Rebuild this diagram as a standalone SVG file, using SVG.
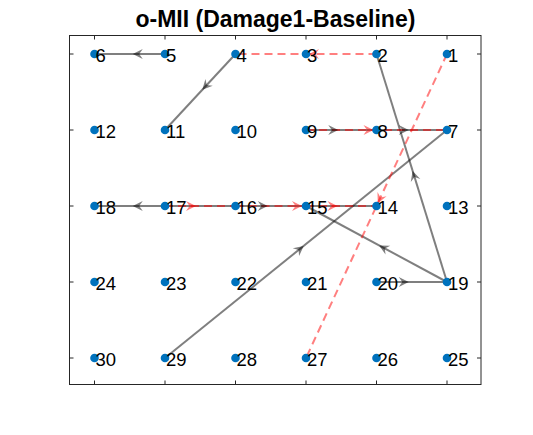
<svg xmlns="http://www.w3.org/2000/svg" xmlns:xlink="http://www.w3.org/1999/xlink" width="533" height="435" viewBox="0 0 533 435">
<style>
.box{fill:none;stroke:#262626;stroke-width:1}
.tick{stroke:#262626;stroke-width:1}
.g{stroke:#000;stroke-opacity:0.5;stroke-width:2;fill:none}
.r{stroke:#f00;stroke-opacity:0.5;stroke-width:2;fill:none;stroke-dasharray:8 5}
.ga{fill:#000;fill-opacity:0.5}
.ra{fill:#f00;fill-opacity:0.5}
.node circle{fill:#0072BD}
.node text{font-family:"Liberation Sans",Arial,sans-serif;font-size:18.5px;fill:#000}
.title{font-family:"Liberation Sans",Arial,sans-serif;font-size:23px;font-weight:bold;fill:#000;text-anchor:middle}
</style>
<defs>
<path id="ah" d="M0,0 L-10,-5 L-6.5,0 L-10,5 Z"/>
</defs>
<rect class="box" x="69.5" y="35.5" width="411.5" height="349"/>
<g id="ticks">
<path class="tick" d="M94.5,35.5v4M165,35.5v4M235.5,35.5v4M306,35.5v4M376.5,35.5v4M447,35.5v4M94.5,384.5v-4M165,384.5v-4M235.5,384.5v-4M306,384.5v-4M376.5,384.5v-4M447,384.5v-4M69.5,54h4M69.5,130h4M69.5,206h4M69.5,282h4M69.5,358h4M481,54h-4M481,130h-4M481,206h-4M481,282h-4M481,358h-4"/>
</g>
<g id="edges">
<line class="g" x1="165" y1="54" x2="94.5" y2="54"/>
<line class="g" x1="235.5" y1="54" x2="165" y2="130"/>
<line class="g" x1="447" y1="282" x2="376.5" y2="54"/>
<line class="g" x1="306" y1="130" x2="376.5" y2="130"/>
<line class="g" x1="376.5" y1="130" x2="447" y2="130"/>
<line class="g" x1="165" y1="358" x2="447" y2="130"/>
<line class="g" x1="165" y1="206" x2="94.5" y2="206"/>
<line class="g" x1="165" y1="206" x2="235.5" y2="206"/>
<line class="g" x1="235.5" y1="206" x2="306" y2="206"/>
<line class="g" x1="306" y1="206" x2="376.5" y2="206"/>
<line class="g" x1="447" y1="282" x2="306" y2="206"/>
<line class="g" x1="376.5" y1="282" x2="447" y2="282"/>
<line class="r" x1="376.5" y1="54" x2="235.5" y2="54"/>
<line class="r" x1="447" y1="54" x2="306" y2="358"/>
<line class="r" x1="306" y1="130" x2="447" y2="130"/>
<line class="r" x1="165" y1="206" x2="235.5" y2="206"/>
<line class="r" x1="235.5" y1="206" x2="306" y2="206"/>
<line class="r" x1="306" y1="206" x2="376.5" y2="206"/>
<use xlink:href="#ah" class="ga" transform="translate(132.75,54) rotate(180)"/>
<use xlink:href="#ah" class="ga" transform="translate(202.3,89.8) rotate(132.85)"/>
<use xlink:href="#ah" class="ga" transform="translate(412.6,170.9) rotate(-107.18)"/>
<use xlink:href="#ah" class="ga" transform="translate(338.25,130)"/>
<use xlink:href="#ah" class="ga" transform="translate(408.75,130)"/>
<use xlink:href="#ah" class="ga" transform="translate(303.7,245.9) rotate(-38.96)"/>
<use xlink:href="#ah" class="ga" transform="translate(132.75,206) rotate(180)"/>
<use xlink:href="#ah" class="ga" transform="translate(267.75,206)"/>
<use xlink:href="#ah" class="ga" transform="translate(379.1,245.4) rotate(-151.68)"/>
<use xlink:href="#ah" class="ga" transform="translate(408.75,282)"/>
<use xlink:href="#ah" class="ra" transform="translate(309,54) rotate(180)"/>
<use xlink:href="#ah" class="ra" transform="translate(377.8,203.3) rotate(114.89)"/>
<use xlink:href="#ah" class="ra" transform="translate(373.5,130)"/>
<use xlink:href="#ah" class="ra" transform="translate(196,206)"/>
<use xlink:href="#ah" class="ra" transform="translate(302,206)"/>
<use xlink:href="#ah" class="ra" transform="translate(337.5,206)"/>
</g>
<g id="n1" class="node"><circle cx="447" cy="54" r="4.3"/><text x="448" y="61.5">1</text></g>
<g id="n2" class="node"><circle cx="376.5" cy="54" r="4.3"/><text x="377.5" y="61.5">2</text></g>
<g id="n3" class="node"><circle cx="306" cy="54" r="4.3"/><text x="307" y="61.5">3</text></g>
<g id="n4" class="node"><circle cx="235.5" cy="54" r="4.3"/><text x="236.5" y="61.5">4</text></g>
<g id="n5" class="node"><circle cx="165" cy="54" r="4.3"/><text x="166" y="61.5">5</text></g>
<g id="n6" class="node"><circle cx="94.5" cy="54" r="4.3"/><text x="95.5" y="61.5">6</text></g>
<g id="n7" class="node"><circle cx="447" cy="130" r="4.3"/><text x="448" y="137.5">7</text></g>
<g id="n8" class="node"><circle cx="376.5" cy="130" r="4.3"/><text x="377.5" y="137.5">8</text></g>
<g id="n9" class="node"><circle cx="306" cy="130" r="4.3"/><text x="307" y="137.5">9</text></g>
<g id="n10" class="node"><circle cx="235.5" cy="130" r="4.3"/><text x="236.5" y="137.5">10</text></g>
<g id="n11" class="node"><circle cx="165" cy="130" r="4.3"/><text x="166" y="137.5">11</text></g>
<g id="n12" class="node"><circle cx="94.5" cy="130" r="4.3"/><text x="95.5" y="137.5">12</text></g>
<g id="n13" class="node"><circle cx="447" cy="206" r="4.3"/><text x="448" y="213.5">13</text></g>
<g id="n14" class="node"><circle cx="376.5" cy="206" r="4.3"/><text x="377.5" y="213.5">14</text></g>
<g id="n15" class="node"><circle cx="306" cy="206" r="4.3"/><text x="307" y="213.5">15</text></g>
<g id="n16" class="node"><circle cx="235.5" cy="206" r="4.3"/><text x="236.5" y="213.5">16</text></g>
<g id="n17" class="node"><circle cx="165" cy="206" r="4.3"/><text x="166" y="213.5">17</text></g>
<g id="n18" class="node"><circle cx="94.5" cy="206" r="4.3"/><text x="95.5" y="213.5">18</text></g>
<g id="n19" class="node"><circle cx="447" cy="282" r="4.3"/><text x="448" y="289.5">19</text></g>
<g id="n20" class="node"><circle cx="376.5" cy="282" r="4.3"/><text x="377.5" y="289.5">20</text></g>
<g id="n21" class="node"><circle cx="306" cy="282" r="4.3"/><text x="307" y="289.5">21</text></g>
<g id="n22" class="node"><circle cx="235.5" cy="282" r="4.3"/><text x="236.5" y="289.5">22</text></g>
<g id="n23" class="node"><circle cx="165" cy="282" r="4.3"/><text x="166" y="289.5">23</text></g>
<g id="n24" class="node"><circle cx="94.5" cy="282" r="4.3"/><text x="95.5" y="289.5">24</text></g>
<g id="n25" class="node"><circle cx="447" cy="358" r="4.3"/><text x="448" y="365.5">25</text></g>
<g id="n26" class="node"><circle cx="376.5" cy="358" r="4.3"/><text x="377.5" y="365.5">26</text></g>
<g id="n27" class="node"><circle cx="306" cy="358" r="4.3"/><text x="307" y="365.5">27</text></g>
<g id="n28" class="node"><circle cx="235.5" cy="358" r="4.3"/><text x="236.5" y="365.5">28</text></g>
<g id="n29" class="node"><circle cx="165" cy="358" r="4.3"/><text x="166" y="365.5">29</text></g>
<g id="n30" class="node"><circle cx="94.5" cy="358" r="4.3"/><text x="95.5" y="365.5">30</text></g>
<text class="title" x="275.4" y="27">o-MII (Damage1-Baseline)</text>
</svg>
